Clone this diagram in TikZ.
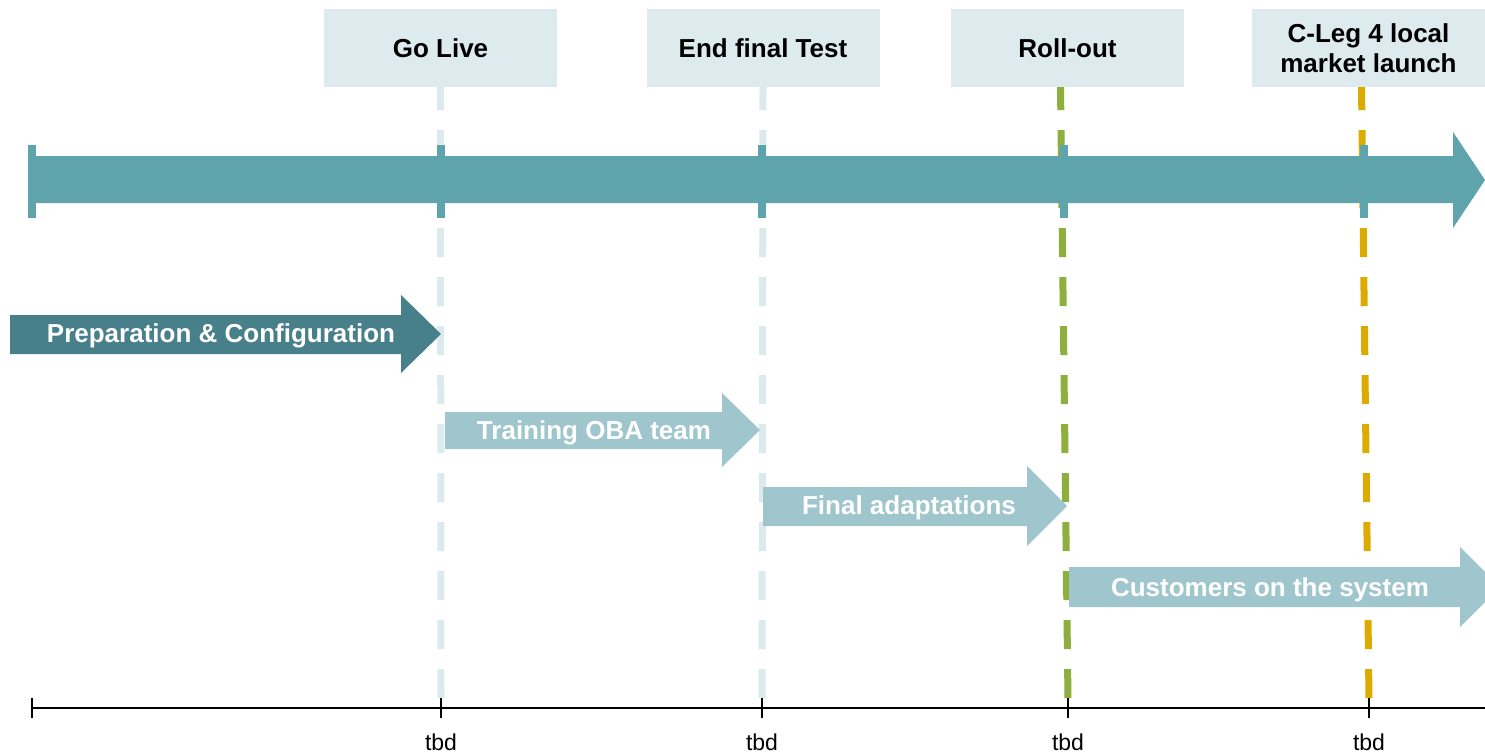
\documentclass[tikz,border=0pt]{standalone}
\usepackage{fontspec}
\setmainfont{Liberation Sans}
\usepackage{tikz}
\usetikzlibrary{positioning}
\definecolor{boxblue}{RGB}{221,235,239}
\definecolor{dashblue}{RGB}{220,233,237}
\definecolor{bigteal}{RGB}{95,163,172}
\definecolor{darkteal}{RGB}{71,128,138}
\definecolor{lightteal}{RGB}{159,198,205}
\definecolor{olive}{RGB}{142,174,62}
\definecolor{gold}{RGB}{221,170,0}

\tikzset{
  milestone/.style={fill=boxblue, minimum width=233pt, minimum height=78pt,
    inner sep=0pt, align=center, font=\fontsize{26}{30}\selectfont\bfseries},
  phasetext/.style={text=white, font=\fontsize{26}{30}\selectfont\bfseries},
  msline/.style={line width=7pt, dash pattern=on 29pt off 20pt, dash phase=6pt},
  tbdlabel/.style={font=\fontsize{23}{26}\selectfont, anchor=north}
}

\begin{document}
\begin{tikzpicture}[x=1pt, y=-1pt]
  \useasboundingbox (0,0) rectangle (1485,755);
  \clip (0,0) rectangle (1485,755);

  % milestone boxes
  \node[milestone] (golive) at (440.5,48) {Go Live};
  \node[milestone] (endtest) at (763,48) {End final Test};
  \node[milestone] (rollout) at (1067.5,48) {Roll-out};
  \node[milestone] (launch) at (1368.5,48) {C-Leg 4 local\\market launch};

  % time axis
  \coordinate (t0) at (32,708);
  \coordinate (t1) at (441,708);
  \coordinate (t2) at (762,708);
  \coordinate (t3) at (1068,708);
  \coordinate (t4) at (1369,708);
  \coordinate (tend) at (1485,708);

  % milestone lines
  \draw[msline, dashblue] (golive.south) -- ([yshift=8pt]t1);
  \draw[msline, dashblue] (endtest.south) -- ([yshift=8pt]t2);
  \draw[msline, olive] ([xshift=-7pt]rollout.south) -- ([yshift=8pt]t3);
  \draw[msline, gold] ([xshift=-7pt]launch.south) -- ([yshift=8pt]t4);

  % main arrow
  \fill[bigteal] (30,156) -- (1453,156) -- (1453,132) -- (1485,180)
    -- (1453,228) -- (1453,203) -- (30,203) -- cycle;
  \foreach \x in {32,441,762,1064,1364}
    \fill[bigteal] (\x-4,145) rectangle (\x+4,218);

  % phases
  \fill[darkteal] (10,315) -- (401,315) -- (401,295) -- (441,334)
    -- (401,373) -- (401,354) -- (10,354) -- cycle;
  \node[phasetext] (prep) at (221,336) {Preparation \& Configuration};

  \fill[lightteal] (445,412) -- (722,412) -- (722,393) -- (760,430)
    -- (722,467) -- (722,449) -- (445,449) -- cycle;
  \node[phasetext] (training) at (594,433) {Training OBA team};

  \fill[lightteal] (763,487) -- (1027,487) -- (1027,466) -- (1067,506)
    -- (1027,546) -- (1027,526) -- (763,526) -- cycle;
  \node[phasetext] (adapt) at (909,508) {Final adaptations};

  \fill[lightteal] (1069,567) -- (1460,567) -- (1460,547) -- (1500,587)
    -- (1460,627) -- (1460,607) -- (1069,607) -- cycle;
  \node[phasetext] (customers) at (1270,590) {Customers on the system};

  % axis
  \draw[line width=2.5pt] (t0) -- (tend);
  \foreach \t in {t0,t1,t2,t3,t4}
    \draw[line width=2.5pt] ([yshift=10pt]\t) -- ([yshift=-10pt]\t);
  \foreach \t/\n in {t1/a,t2/b,t3/c,t4/d}
    \node[tbdlabel] (tbd\n) at ([yshift=-22pt]\t) {tbd};
\end{tikzpicture}
\end{document}
